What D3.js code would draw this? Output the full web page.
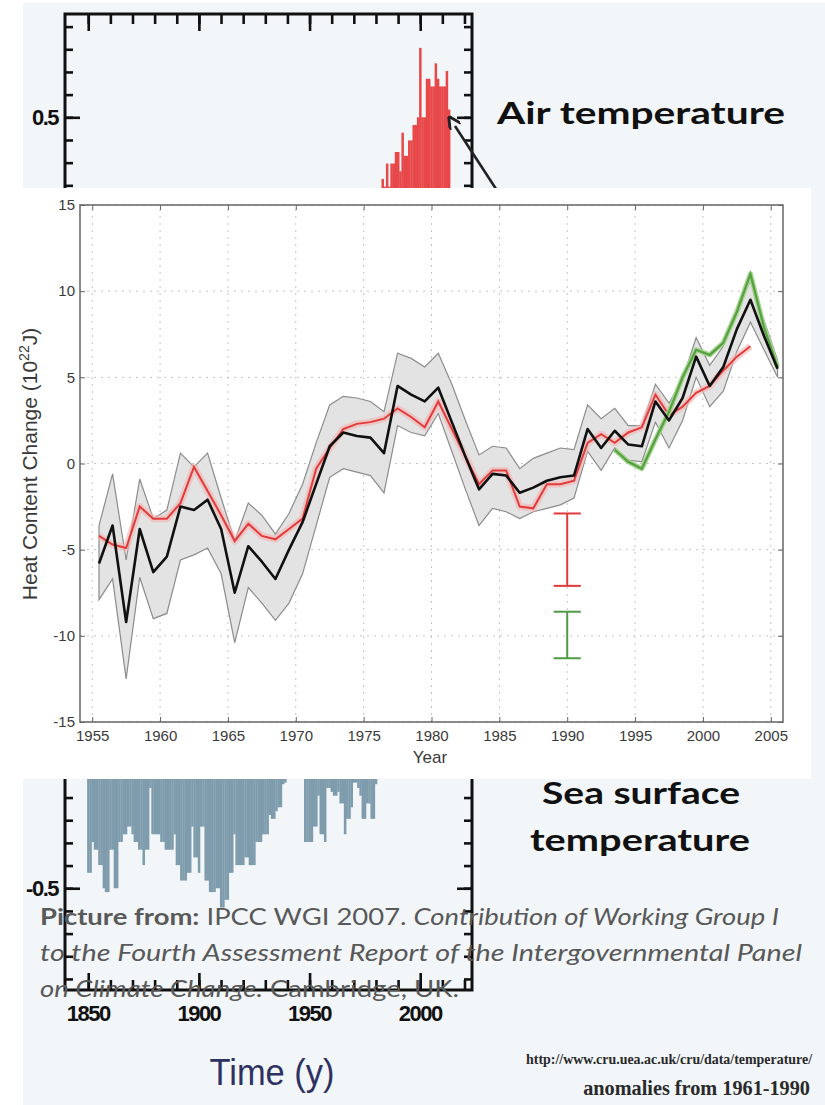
<!DOCTYPE html>
<html>
<head>
<meta charset="utf-8">
<script src="https://cdn.jsdelivr.net/npm/d3@7"></script>
<style>
  body { margin: 0; background: #ffffff; }
  svg { display: block; }
</style>
</head>
<body>
<svg width="825" height="1105"></svg>
<script>
"use strict";

// ---- Background chart: global temperature anomalies (only the visible bars) ----
var airYears = d3.range(1983, 2014);
var airValues = [0.42, 0.41, 0.44, 0.41, 0.44, 0.44, 0.455, 0.455, 0.43, 0.48,
                 0.45, 0.45, 0.47, 0.47, 0.49, 0.49, 0.50, 0.59, 0.50, 0.50,
                 0.55, 0.55, 0.54, 0.54, 0.57, 0.55, 0.54, 0.54, 0.54, 0.56, 0.51];

var sstYears = d3.range(1850, 1940).concat(d3.range(1948, 1981));
var sstValues = [-0.48, -0.48, -0.44, -0.45, -0.45, -0.47, -0.47, -0.50, -0.505, -0.505,
                 -0.45, -0.45, -0.50, -0.50, -0.44, -0.44, -0.43, -0.43, -0.42, -0.42,
                 -0.43, -0.44, -0.44, -0.45, -0.45, -0.47, -0.45, -0.45, -0.37, -0.43,
                 -0.43, -0.43, -0.43, -0.44, -0.44, -0.45, -0.45, -0.45, -0.45, -0.43,
                 -0.47, -0.47, -0.49, -0.49, -0.49, -0.48, -0.48, -0.42, -0.46, -0.46,
                 -0.48, -0.42, -0.42, -0.49, -0.49, -0.505, -0.505, -0.505, -0.50, -0.50,
                 -0.525, -0.525, -0.515, -0.515, -0.48, -0.48, -0.43, -0.47, -0.47, -0.47,
                 -0.47, -0.46, -0.46, -0.47, -0.47, -0.47, -0.44, -0.44, -0.44, -0.43,
                 -0.43, -0.43, -0.405, -0.41, -0.41, -0.40, -0.395, -0.395, -0.365, -0.363,
                 -0.44, -0.44, -0.44, -0.44, -0.42, -0.42, -0.38, -0.43, -0.43, -0.44,
                 -0.37, -0.37, -0.375, -0.38, -0.38, -0.375, -0.39, -0.39, -0.43, -0.41,
                 -0.41, -0.395, -0.363, -0.363, -0.37, -0.38, -0.41, -0.41, -0.39, -0.39,
                 -0.41, -0.41, -0.365];

var tempYearTicks = d3.range(1850, 2030, 10);
var tempYearLabels = [1850, 1900, 1950, 2000];
var tempLabels = [0.5, -0.5];

// ---- Main chart: ocean heat content change ----
var hcYears = d3.range(1955, 2006);
var hcMean = [-5.8, -3.6, -9.2, -3.8, -6.3, -5.4, -2.5, -2.7, -2.1, -3.8,
              -7.5, -4.8, -5.7, -6.7, -5.0, -3.4, -1.2, 1.0, 1.8, 1.6,
              1.5, 0.6, 4.5, 4.0, 3.6, 4.4, 2.4, 0.4, -1.5, -0.6,
              -0.7, -1.7, -1.4, -1.0, -0.8, -0.7, 2.0, 0.9, 1.9, 1.1,
              1.0, 3.6, 2.5, 3.8, 6.2, 4.5, 5.6, 7.8, 9.5, 7.4, 5.5];
var hcUpper = [-3.6, -0.6, -5.6, -0.9, -3.2, -2.7, 0.6, -0.2, 0.6, -2.0,
               -4.5, -2.3, -3.0, -4.1, -2.9, -1.2, 1.2, 3.4, 3.9, 3.8,
               3.6, 3.0, 6.4, 6.1, 5.6, 6.4, 4.6, 2.5, 0.5, 1.0,
               0.9, -0.3, 0.3, 0.6, 0.9, 0.8, 3.4, 2.6, 3.2, 2.2,
               2.2, 4.6, 3.5, 4.9, 7.3, 5.7, 6.8, 9.0, 10.6, 8.3, 6.0];
var hcLower = [-7.9, -6.7, -12.5, -6.6, -9.0, -8.7, -5.6, -5.3, -4.9, -6.4,
               -10.4, -7.2, -8.1, -9.1, -8.1, -6.4, -3.6, -0.8, -0.3, -0.5,
               -0.7, -1.7, 2.2, 1.8, 1.6, 2.9, 0.7, -1.5, -3.6, -2.6,
               -2.8, -3.2, -2.8, -2.6, -2.4, -2.0, 0.7, -0.4, 0.9, 0.2,
               0.1, 2.4, 0.9, 2.5, 5.0, 3.3, 4.2, 6.5, 8.2, 6.6, 5.0];

var redYears = d3.range(1955, 2004);
var redValues = [-4.2, -4.7, -4.9, -2.5, -3.2, -3.2, -2.3, -0.2, -1.6, -3.0,
                 -4.5, -3.5, -4.2, -4.4, -3.8, -3.2, -0.3, 0.9, 2.0, 2.3,
                 2.4, 2.6, 3.2, 2.7, 2.1, 3.6, 2.0, 0.4, -1.2, -0.4,
                 -0.4, -2.5, -2.6, -1.2, -1.2, -1.0, 1.2, 1.7, 1.2, 1.8,
                 2.1, 4.0, 2.8, 3.3, 4.1, 4.5, 5.4, 6.2, 6.8];

var greenYears = d3.range(1993, 2006);
var greenValues = [0.8, 0.1, -0.3, 1.4, 3.0, 5.0, 6.6, 6.3, 7.0, 8.8, 11.0, 7.9, 5.6];

var errYear = 1990;
var redErr = [-2.9, -7.1];
var greenErr = [-8.6, -11.3];

var hcXTicks = [1955, 1960, 1965, 1970, 1975, 1980, 1985, 1990, 1995, 2000, 2005];
var hcYTicks = [-15, -10, -5, 0, 5, 10, 15];

var svg = d3.select("svg");

// Slide background
svg.append("rect")
    .attr("x", 23).attr("y", 3)
    .attr("width", 802).attr("height", 1102)
    .attr("fill", "#f2f6f9");

// ---------- Temperature bar chart (behind) ----------
var tx = d3.scaleLinear().domain([1839.5, 2023.4]).range([65, 472]);
var ty = d3.scaleLinear().domain([0.634, -0.632]).range([14, 990]);
var barW = tx(1) - tx(0);

var bg = svg.append("g").attr("class", "tempChart");

bg.selectAll("rect.sst")
    .data(d3.zip(sstYears, sstValues))
    .enter().append("rect")
    .attr("class", "sst")
    .attr("x", function(d) { return tx(d[0]) - barW / 2; })
    .attr("y", ty(0))
    .attr("width", barW + 0.3)
    .attr("height", function(d) { return ty(d[1]) - ty(0); })
    .attr("fill", "#7f9cad");

bg.selectAll("rect.air")
    .data(d3.zip(airYears, airValues))
    .enter().append("rect")
    .attr("class", "air")
    .attr("x", function(d) { return tx(d[0]) - barW / 2; })
    .attr("y", function(d) { return ty(d[1]); })
    .attr("width", barW + 0.3)
    .attr("height", function(d) { return ty(0) - ty(d[1]); })
    .attr("fill", "#e8484a");

// minor / major ticks on all four sides
var minorT = d3.range(-21, 22).map(function(i) { return i / 34; });
var majorT = [0.5, 0, -0.5];

function styleTicks(g) {
    g.select(".domain").remove();
    g.selectAll("line").attr("stroke", "#111").attr("stroke-width", 2.6);
}

bg.append("g").attr("transform", "translate(65,0)")
    .call(d3.axisLeft(ty).tickValues(minorT).tickSize(-8).tickFormat("")).call(styleTicks);
bg.append("g").attr("transform", "translate(65,0)")
    .call(d3.axisLeft(ty).tickValues(majorT).tickSize(-15).tickFormat("")).call(styleTicks);
bg.append("g").attr("transform", "translate(472,0)")
    .call(d3.axisRight(ty).tickValues(minorT).tickSize(-8).tickFormat("")).call(styleTicks);
bg.append("g").attr("transform", "translate(472,0)")
    .call(d3.axisRight(ty).tickValues(majorT).tickSize(-15).tickFormat("")).call(styleTicks);
bg.append("g").attr("transform", "translate(0,14)")
    .call(d3.axisTop(tx).tickValues(tempYearTicks).tickSize(-10).tickFormat("")).call(styleTicks);
bg.append("g").attr("transform", "translate(0,14)")
    .call(d3.axisTop(tx).tickValues(tempYearLabels).tickSize(-17).tickFormat("")).call(styleTicks);
bg.append("g").attr("transform", "translate(0,990)")
    .call(d3.axisBottom(tx).tickValues(tempYearTicks).tickSize(-10).tickFormat("")).call(styleTicks);
bg.append("g").attr("transform", "translate(0,990)")
    .call(d3.axisBottom(tx).tickValues(tempYearLabels).tickSize(-17).tickFormat("")).call(styleTicks);

// frame
bg.append("rect")
    .attr("x", tx.range()[0]).attr("y", ty.range()[0])
    .attr("width", tx.range()[1] - tx.range()[0])
    .attr("height", ty.range()[1] - ty.range()[0])
    .attr("fill", "none").attr("stroke", "#111").attr("stroke-width", 3);

// axis labels
bg.selectAll("text.tlab")
    .data(tempLabels)
    .enter().append("text")
    .attr("class", "tlab")
    .attr("x", 58)
    .attr("y", function(d) { return ty(d) + 8; })
    .attr("text-anchor", "end")
    .style("font-family", "Liberation Sans, Arial, sans-serif")
    .style("font-weight", "bold")
    .style("font-size", "22px")
    .style("letter-spacing", "-1.5px")
    .attr("fill", "#111")
    .text(function(d) { return d; });

bg.selectAll("text.ylab")
    .data(tempYearLabels)
    .enter().append("text")
    .attr("class", "ylab")
    .attr("x", function(d) { return tx(d); })
    .attr("y", 1021)
    .attr("text-anchor", "middle")
    .style("font-family", "Liberation Sans, Arial, sans-serif")
    .style("font-weight", "bold")
    .style("font-size", "22px")
    .style("letter-spacing", "-1.5px")
    .attr("fill", "#111")
    .text(function(d) { return d; });

// arrow pointing at the recent warm bars
svg.append("defs").append("marker")
    .attr("id", "ahead")
    .attr("viewBox", "0 0 10 10")
    .attr("refX", 1).attr("refY", 5)
    .attr("markerWidth", 5).attr("markerHeight", 5)
    .attr("orient", "auto-start-reverse")
    .append("path")
    .attr("d", "M0,0 L10,5 L0,10")
    .attr("fill", "none")
    .attr("stroke", "#222")
    .attr("stroke-width", 2.2);

svg.append("line")
    .attr("x1", 455).attr("y1", 126)
    .attr("x2", 498).attr("y2", 192)
    .attr("stroke", "#222")
    .attr("stroke-width", 2.6)
    .attr("marker-start", "url(#ahead)");

// ---------- White panel with the heat content chart ----------
svg.append("rect")
    .attr("x", 0).attr("y", 188)
    .attr("width", 811).attr("height", 591)
    .attr("fill", "#ffffff");

var x = d3.scaleLinear().domain([1954.1, 2005.9]).range([80, 783]);
var y = d3.scaleLinear().domain([-15, 15]).range([722, 205]);
var chart = svg.append("g").attr("class", "chart");

// dotted grid
chart.append("g").selectAll("line")
    .data(hcXTicks)
    .enter().append("line")
    .attr("x1", function(d) { return x(d); })
    .attr("x2", function(d) { return x(d); })
    .attr("y1", y(-15)).attr("y2", y(15))
    .attr("stroke", "#c4c4c4")
    .attr("stroke-dasharray", "2,5");

chart.append("g").selectAll("line")
    .data(hcYTicks)
    .enter().append("line")
    .attr("x1", x.range()[0]).attr("x2", x.range()[1])
    .attr("y1", function(d) { return y(d); })
    .attr("y2", function(d) { return y(d); })
    .attr("stroke", "#c4c4c4")
    .attr("stroke-dasharray", "2,5");

// uncertainty band
var band = d3.area()
    .x(function(d, i) { return x(hcYears[i] + 0.5); })
    .y0(function(d, i) { return y(hcLower[i]); })
    .y1(function(d, i) { return y(hcUpper[i]); });

chart.append("path")
    .datum(hcMean)
    .attr("d", band)
    .attr("fill", "#e3e3e3")
    .attr("stroke", "#8c8c8c")
    .attr("stroke-width", 1.2);

function seriesLine(years) {
    return d3.line()
        .x(function(d, i) { return x(years[i] + 0.5); })
        .y(function(d) { return y(d); });
}

// red series with pale halo
chart.append("path")
    .datum(redValues)
    .attr("d", seriesLine(redYears))
    .attr("fill", "none")
    .attr("stroke", "#f3b3b3")
    .attr("stroke-width", 7)
    .attr("stroke-opacity", 0.6)
    .attr("stroke-linejoin", "round");

chart.append("path")
    .datum(redValues)
    .attr("d", seriesLine(redYears))
    .attr("fill", "none")
    .attr("stroke", "#e23b3b")
    .attr("stroke-width", 2);

// green series
chart.append("path")
    .datum(greenValues)
    .attr("d", seriesLine(greenYears))
    .attr("fill", "none")
    .attr("stroke", "#a5d48f")
    .attr("stroke-width", 5)
    .attr("stroke-linejoin", "round");

chart.append("path")
    .datum(greenValues)
    .attr("d", seriesLine(greenYears))
    .attr("fill", "none")
    .attr("stroke", "#55a040")
    .attr("stroke-width", 2.2);

// black mean
chart.append("path")
    .datum(hcMean)
    .attr("d", seriesLine(hcYears))
    .attr("fill", "none")
    .attr("stroke", "#111")
    .attr("stroke-width", 2.6)
    .attr("stroke-linejoin", "round");

// error bars
function errorBar(vals, color) {
    var g = chart.append("g").attr("stroke", color).attr("stroke-width", 2);
    g.append("line")
        .attr("x1", x(errYear)).attr("x2", x(errYear))
        .attr("y1", y(vals[0])).attr("y2", y(vals[1]));
    vals.forEach(function(v) {
        g.append("line")
            .attr("x1", x(errYear - 1)).attr("x2", x(errYear + 1))
            .attr("y1", y(v)).attr("y2", y(v));
    });
}
errorBar(redErr, "#e0393b");
errorBar(greenErr, "#4f9c44");

// axes
function styleAxis(g) {
    g.select(".domain").remove();
    g.selectAll("line").attr("stroke", "#666");
    g.selectAll("text")
        .style("font-family", "Liberation Sans, Arial, sans-serif")
        .style("font-size", "15px")
        .attr("fill", "#3a3a3a");
}

chart.append("g").attr("transform", "translate(0," + y(-15) + ")")
    .call(d3.axisBottom(x).tickValues(hcXTicks).tickSize(-5).tickPadding(8)
        .tickFormat(function(d) { return String(d); }))
    .call(styleAxis);
chart.append("g").attr("transform", "translate(0," + y(15) + ")")
    .call(d3.axisTop(x).tickValues(hcXTicks).tickSize(-5).tickFormat(""))
    .call(styleAxis);
chart.append("g").attr("transform", "translate(" + x.range()[0] + ",0)")
    .call(d3.axisLeft(y).tickValues(hcYTicks).tickSize(-5).tickPadding(5)
        .tickFormat(function(d) { return String(d); }))
    .call(styleAxis);
chart.append("g").attr("transform", "translate(" + x.range()[1] + ",0)")
    .call(d3.axisRight(y).tickValues(hcYTicks).tickSize(-5).tickFormat(""))
    .call(styleAxis);

chart.append("rect")
    .attr("x", x.range()[0]).attr("y", y(15))
    .attr("width", x.range()[1] - x.range()[0])
    .attr("height", y(-15) - y(15))
    .attr("fill", "none")
    .attr("stroke", "#666")
    .attr("stroke-width", 1.5);

chart.append("text")
    .attr("x", 430).attr("y", 763)
    .attr("text-anchor", "middle")
    .style("font-family", "Liberation Sans, Arial, sans-serif")
    .style("font-size", "17px")
    .attr("fill", "#3a3a3a")
    .text("Year");

var yTitle = chart.append("text")
    .attr("transform", "translate(37,464) rotate(-90)")
    .attr("text-anchor", "middle")
    .style("font-family", "Liberation Sans, Arial, sans-serif")
    .style("font-size", "21px")
    .attr("fill", "#3a3a3a");
yTitle.append("tspan").text("Heat Content Change (10");
yTitle.append("tspan").attr("dy", -8).style("font-size", "14px").text("22");
yTitle.append("tspan").attr("dy", 8).text("J)");

// ---------- Slide texts ----------
function slideText(txt, xPos, yPos, len) {
    return svg.append("text")
        .attr("x", xPos).attr("y", yPos)
        .attr("text-anchor", "middle")
        .attr("textLength", len)
        .attr("lengthAdjust", "spacingAndGlyphs")
        .style("font-family", "Lato, Open Sans, sans-serif")
        .style("font-weight", "bold")
        .style("font-size", "31px")
        .attr("fill", "#111")
        .text(txt);
}
slideText("Air temperature", 641, 124, 288);
slideText("Sea surface", 641, 804, 198);
slideText("temperature", 640, 851, 220);

function captionLine(yPos, len, parts) {
    var t = svg.append("text")
        .attr("x", 40).attr("y", yPos)
        .attr("textLength", len)
        .attr("lengthAdjust", "spacingAndGlyphs")
        .style("font-family", "Lato, Open Sans, sans-serif")
        .style("font-size", "23px")
        .attr("fill", "#595959");
    parts.forEach(function(p) {
        t.append("tspan")
            .style("font-weight", p[1] === "b" ? "bold" : "normal")
            .style("font-style", p[1] === "i" ? "italic" : "normal")
            .text(p[0]);
    });
}
captionLine(925, 739, [["Picture from:", "b"], [" IPCC WGI 2007. ", "n"], ["Contribution of Working Group I", "i"]]);
captionLine(961, 762, [["to the Fourth Assessment Report of the Intergovernmental Panel", "i"]]);
captionLine(997, 419, [["on Climate Change.", "i"], [" Cambridge, UK.", "n"]]);

svg.append("text")
    .attr("x", 272).attr("y", 1085)
    .attr("text-anchor", "middle")
    .attr("textLength", 125)
    .attr("lengthAdjust", "spacingAndGlyphs")
    .style("font-family", "Liberation Sans, Arial, sans-serif")
    .style("font-size", "36px")
    .attr("fill", "#2f3162")
    .text("Time (y)");

// source lines: font size fitted to the width they take in the slide
function sourceLine(txt, xEnd, yPos, width) {
    var t = svg.append("text")
        .attr("x", xEnd).attr("y", yPos)
        .attr("text-anchor", "end")
        .style("font-family", "Liberation Serif, Times New Roman, serif")
        .style("font-weight", "bold")
        .style("font-size", "16px")
        .attr("fill", "#2a2a2a")
        .text(txt);
    var w = t.node().getComputedTextLength();
    t.style("font-size", (16 * width / w).toFixed(2) + "px");
}
sourceLine("http://www.cru.uea.ac.uk/cru/data/temperature/", 812, 1064, 286);
sourceLine("anomalies from 1961-1990", 810, 1095, 227);
</script>
</body>
</html>
